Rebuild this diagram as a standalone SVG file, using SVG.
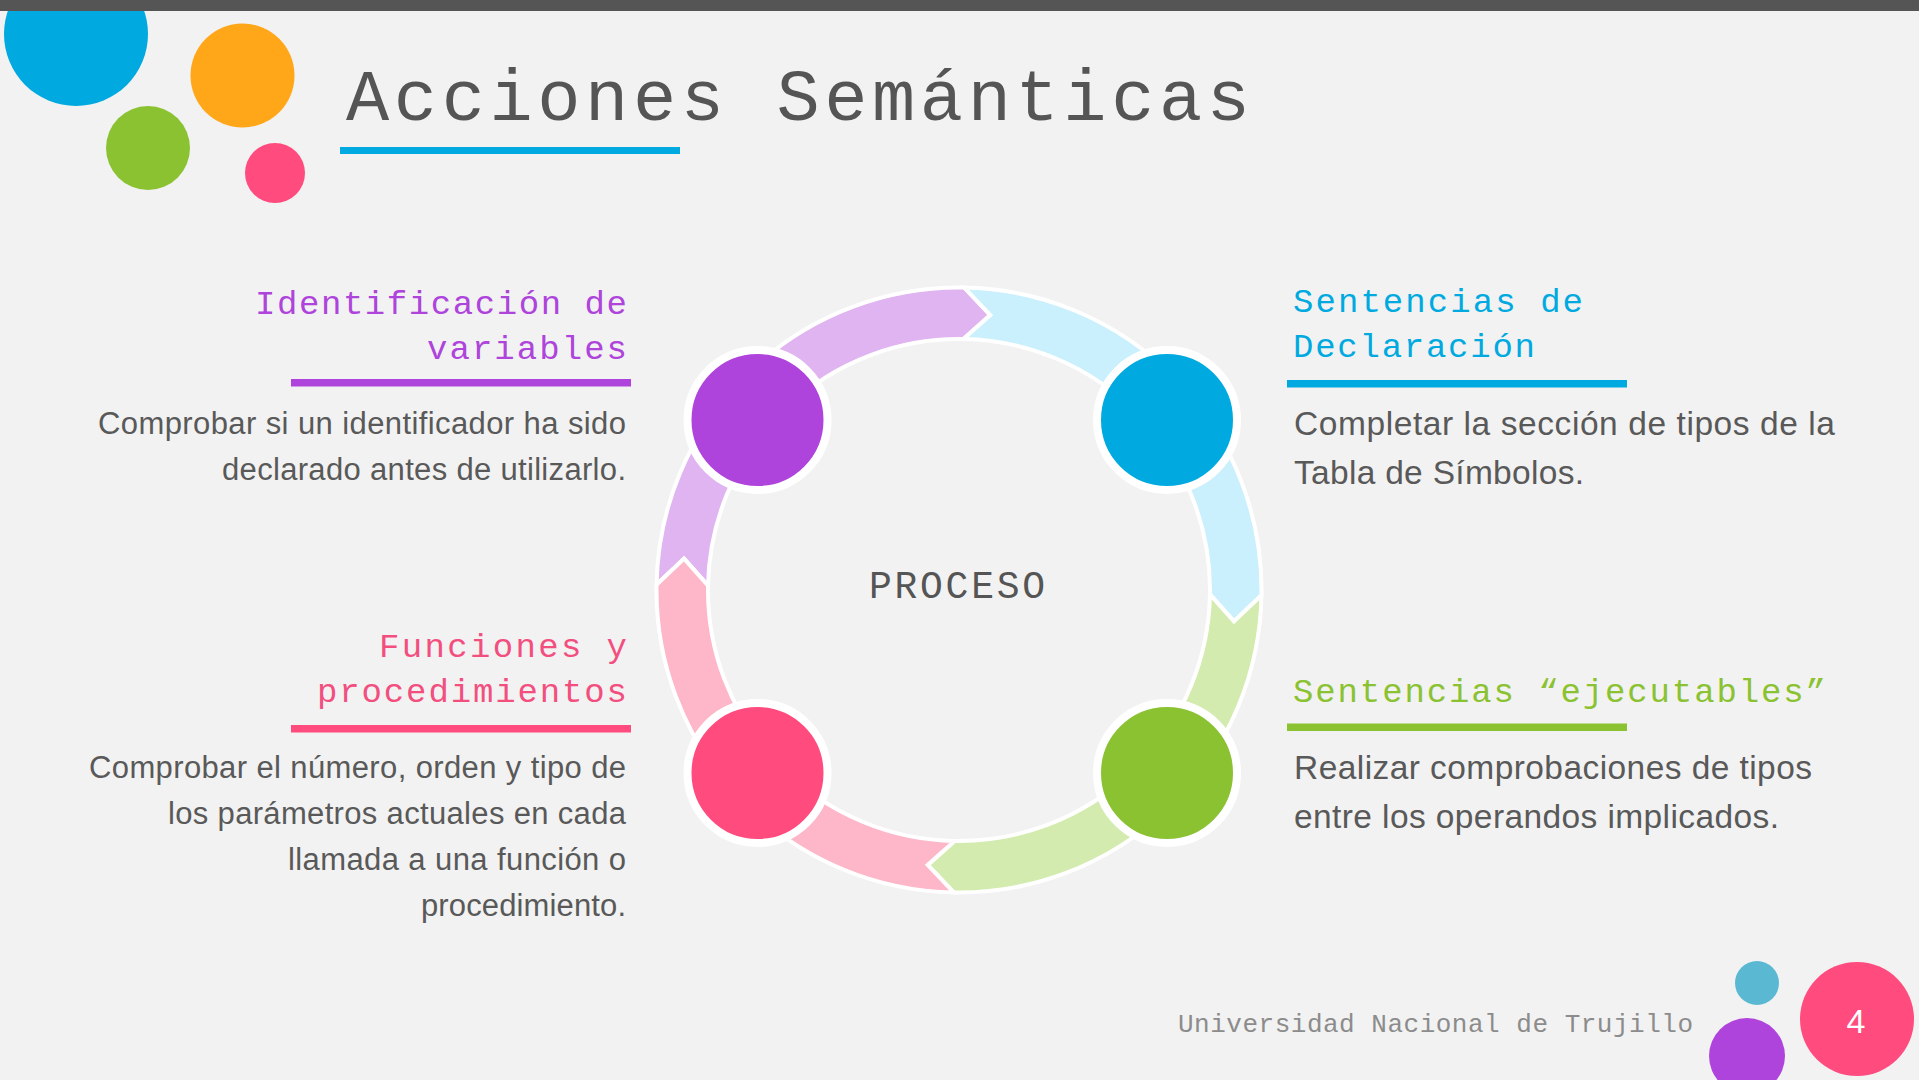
<svg xmlns="http://www.w3.org/2000/svg" width="1919" height="1080" viewBox="0 0 1919 1080">
<style>
.mono{font-family:"Liberation Mono","DejaVu Sans Mono",monospace;}
.body{font-family:"Liberation Sans",Arial,sans-serif;fill:#595959;}
.bl{font-size:31px;}
.br{font-size:33.5px;}
.hd{font-size:34px;}
.seg{stroke:#ffffff;stroke-width:4;stroke-linejoin:miter;}
.node{stroke:#ffffff;stroke-width:8;}
</style>
<rect x="0" y="0" width="1919" height="1080" fill="#f2f2f2"/>
<g id="decor-top">
<circle cx="76" cy="34" r="72" fill="#00a9e0"/>
<circle cx="242.5" cy="75.5" r="52" fill="#ffa619"/>
<circle cx="148" cy="148" r="42" fill="#8ac231"/>
<circle cx="275" cy="173" r="30" fill="#ff4b7d"/>
<rect x="0" y="0" width="1919" height="11" fill="#555555"/>
</g>
<g id="title">
<text class="mono" x="346" y="120" font-size="72" fill="#555555" textLength="904" lengthAdjust="spacing">Acciones Semánticas</text>
<rect x="340" y="147" width="340" height="7" fill="#00a9e0"/>
</g>
<g id="connectors">
<path class="seg" fill="#dfb4f0" d="M656.55,584.72 A302.5,302.5 0 0 1 964.28,287.55 L990.33,315.03 L963.38,339.04 A251,251 0 0 0 708.04,585.62 L684.03,558.67 Z"/>
<path class="seg" fill="#c9f0fc" d="M964.28,287.55 A302.5,302.5 0 0 1 1261.45,595.28 L1233.97,621.33 L1209.96,594.38 A251,251 0 0 0 963.38,339.04 L990.33,315.03 Z"/>
<path class="seg" fill="#d3ebae" d="M1261.45,595.28 A302.5,302.5 0 0 1 953.72,892.45 L927.67,864.97 L954.62,840.96 A251,251 0 0 0 1209.96,594.38 L1233.97,621.33 Z"/>
<path class="seg" fill="#fdb7c9" d="M953.72,892.45 A302.5,302.5 0 0 1 656.55,584.72 L684.03,558.67 L708.04,585.62 A251,251 0 0 0 954.62,840.96 L927.67,864.97 Z"/>
</g>
<g id="center-label">
<text class="mono" x="869" y="598" font-size="38" fill="#555555" textLength="176" lengthAdjust="spacing">PROCESO</text>
</g>
<g id="node-identificacion">
<circle class="node" cx="757.5" cy="420" r="70" fill="#ae44db"/>
<text class="mono hd" x="627" y="314" text-anchor="end" fill="#ae44db" textLength="372" lengthAdjust="spacing">Identificación de</text>
<text class="mono hd" x="627" y="358.5" text-anchor="end" fill="#ae44db" textLength="200" lengthAdjust="spacing">variables</text>
<rect x="291" y="379" width="340" height="7.5" fill="#ae44db"/>
<text class="body bl" x="626" y="434" text-anchor="end" textLength="528" lengthAdjust="spacing">Comprobar si un identificador ha sido</text>
<text class="body bl" x="626" y="480" text-anchor="end" textLength="404" lengthAdjust="spacing">declarado antes de utilizarlo.</text>
</g>
<g id="node-declaracion">
<circle class="node" cx="1167" cy="420" r="70" fill="#00aae0"/>
<text class="mono hd" x="1293" y="312" fill="#00aae0" textLength="290" lengthAdjust="spacing">Sentencias de</text>
<text class="mono hd" x="1293" y="357" fill="#00aae0" textLength="242" lengthAdjust="spacing">Declaración</text>
<rect x="1287" y="380" width="340" height="7.5" fill="#00aae0"/>
<text class="body br" x="1294" y="435" textLength="541" lengthAdjust="spacing">Completar la sección de tipos de la</text>
<text class="body br" x="1294" y="483.5" textLength="290" lengthAdjust="spacing">Tabla de Símbolos.</text>
</g>
<g id="node-ejecutables">
<circle class="node" cx="1167" cy="773" r="70" fill="#8ac231"/>
<text class="mono hd" x="1293" y="701.5" fill="#8ac231" textLength="533" lengthAdjust="spacing">Sentencias “ejecutables”</text>
<rect x="1287" y="723.5" width="340" height="7.5" fill="#8ac231"/>
<text class="body br" x="1294" y="778.5" textLength="518" lengthAdjust="spacing">Realizar comprobaciones de tipos</text>
<text class="body br" x="1294" y="828" textLength="485" lengthAdjust="spacing">entre los operandos implicados.</text>
</g>
<g id="node-funciones">
<circle class="node" cx="757.5" cy="773" r="70" fill="#ff4b7d"/>
<text class="mono hd" x="627" y="657" text-anchor="end" fill="#f24f7f" textLength="248" lengthAdjust="spacing">Funciones y</text>
<text class="mono hd" x="627" y="702" text-anchor="end" fill="#f24f7f" textLength="310" lengthAdjust="spacing">procedimientos</text>
<rect x="291" y="725" width="340" height="7.5" fill="#ff4b7d"/>
<text class="body bl" x="626" y="777.5" text-anchor="end" textLength="537" lengthAdjust="spacing">Comprobar el número, orden y tipo de</text>
<text class="body bl" x="626" y="823.5" text-anchor="end" textLength="458" lengthAdjust="spacing">los parámetros actuales en cada</text>
<text class="body bl" x="626" y="870" text-anchor="end" textLength="338" lengthAdjust="spacing">llamada a una función o</text>
<text class="body bl" x="626" y="916" text-anchor="end" textLength="205" lengthAdjust="spacing">procedimiento.</text>
</g>
<g id="footer">
<text class="mono" x="1178" y="1032" font-size="26" fill="#8c8c8c" textLength="515" lengthAdjust="spacing">Universidad Nacional de Trujillo</text>
<circle cx="1757" cy="983" r="22" fill="#5bb8d3"/>
<circle cx="1747" cy="1056" r="38" fill="#ae44db"/>
<circle cx="1857" cy="1019" r="57" fill="#ff4b7d"/>
<text x="1856" y="1033" font-family="Liberation Sans, Arial, sans-serif" font-size="34" fill="#ffffff" text-anchor="middle">4</text>
</g>
</svg>
